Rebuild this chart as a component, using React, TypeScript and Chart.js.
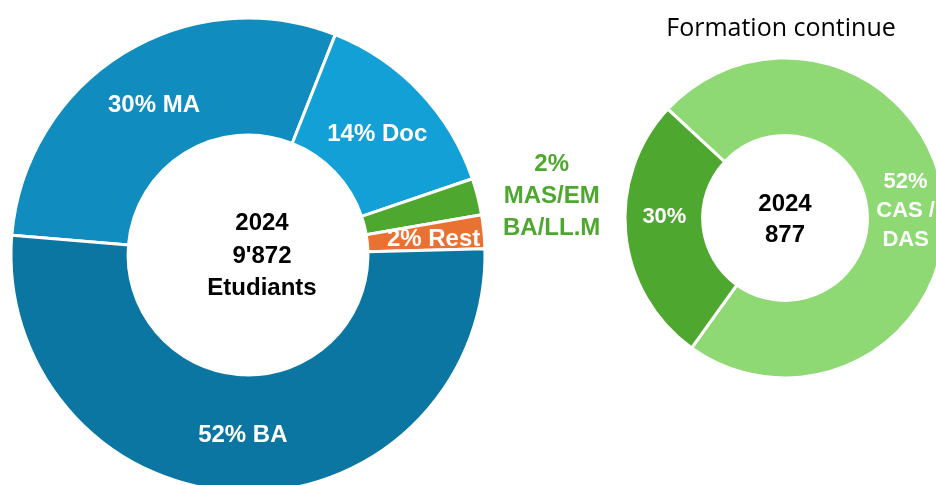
import React, { useEffect, useRef } from 'react';
import { Chart, registerables } from 'chart.js';

Chart.register(...registerables);

// ---- Data ----
const studentCategories = ['MA', 'Doc', 'MAS/EMBA/LL.M', 'Rest', 'BA'];
const studentShares = [29.7, 13.8, 2.5, 2.3, 51.8];
const studentLabels = ['30% MA', '14% Doc', '2%\nMAS/EM\nBA/LL.M', '2% Rest', '52% BA'];
const studentCenter = ['2024', "9'872", 'Etudiants'];

const ceCategories = ['CAS / DAS', 'Autres'];
const ceShares = [73, 27];
const ceLabels = ['52%\nCAS /\nDAS', '30%'];
const ceCenter = ['2024', '877'];
const ceTitle = 'Formation continue';

const BOLD = '"Liberation Sans", Arial, sans-serif';

const labelPlugin = {
  id: 'segLabels',
  afterDatasetsDraw(chart: any, _args: any, opts: any) {
    const ctx = chart.ctx;
    const meta = chart.getDatasetMeta(0);
    let cx = 0;
    let cy = 0;
    meta.data.forEach((arc: any, i: number) => {
      arc.draw(ctx);
      const p = arc.getProps(['x', 'y', 'startAngle', 'endAngle', 'innerRadius', 'outerRadius'], true);
      cx = p.x;
      cy = p.y;
      const text = opts.labels[i];
      if (!text) return;
      const mid = (p.startAngle + p.endAngle) / 2;
      const outside = opts.outside && opts.outside[i];
      let px: number;
      let py: number;
      if (outside) {
        px = p.x + p.outerRadius * Math.cos(mid) + opts.outsideShift;
        py = p.y + p.outerRadius * Math.sin(mid);
      } else {
        const r = (p.innerRadius + p.outerRadius) / 2;
        px = p.x + r * Math.cos(mid);
        py = p.y + r * Math.sin(mid);
      }
      px += (opts.nudgeX && opts.nudgeX[i]) || 0;
      py += (opts.nudgeY && opts.nudgeY[i]) || 0;
      const lines = String(text).split('\n');
      ctx.save();
      ctx.font = `bold ${opts.fontSize}px ${BOLD}`;
      ctx.fillStyle = outside ? opts.outsideColor : '#ffffff';
      ctx.textAlign = 'center';
      ctx.textBaseline = 'middle';
      const lh = opts.lineHeight;
      lines.forEach((ln: string, k: number) => {
        ctx.fillText(ln, px, py + (k - (lines.length - 1) / 2) * lh);
      });
      ctx.restore();
    });
    // center text
    ctx.save();
    ctx.font = `bold ${opts.centerSize}px ${BOLD}`;
    ctx.fillStyle = '#000000';
    ctx.textAlign = 'center';
    ctx.textBaseline = 'middle';
    const cl = opts.center as string[];
    cl.forEach((ln, k) => {
      ctx.fillText(
        ln,
        cx + (opts.centerDx || 0),
        cy + (opts.centerDy || 0) + (k - (cl.length - 1) / 2) * opts.centerLineHeight
      );
    });
    ctx.restore();
    if (opts.title) {
      ctx.save();
      ctx.font = `25px "Open Sans", Arial, sans-serif`;
      ctx.fillStyle = '#000000';
      ctx.textAlign = 'center';
      ctx.textBaseline = 'middle';
      ctx.fillText(opts.title, opts.titleX, opts.titleY);
      ctx.restore();
    }
  },
};

function StudentsChart() {
  const ref = useRef<HTMLCanvasElement>(null);
  useEffect(() => {
    const chart = new Chart(ref.current as HTMLCanvasElement, {
      type: 'doughnut',
      data: {
        labels: studentCategories,
        datasets: [
          {
            data: studentShares,
            backgroundColor: ['#108CBF', '#13A0D7', '#4EA72E', '#E97132', '#0B76A1'],
            borderColor: '#ffffff',
            borderWidth: 3,
          },
        ],
      },
      options: {
        responsive: false,
        animation: false,
        devicePixelRatio: 1,
        rotation: -85.2,
        radius: 237,
        cutout: '50.6%',
        layout: { padding: { left: 0, top: 0, bottom: 0, right: 104 } },
        plugins: {
          legend: { display: false },
          tooltip: { enabled: false },
          segLabels: {
            labels: studentLabels,
            outside: [false, false, true, false, false],
            outsideShift: 74,
            outsideColor: '#4EA72E',
            nudgeX: [0, 0, 0, 8, 0],
            nudgeY: [2, 2, 0, 2, 2],
            fontSize: 24,
            lineHeight: 32,
            center: studentCenter,
            centerSize: 24,
            centerLineHeight: 32.5,
            centerDx: 14,
            centerDy: 1,
          },
        } as any,
      },
      plugins: [labelPlugin as any],
    });
    return () => chart.destroy();
  }, []);
  return (
    <canvas
      ref={ref}
      width={600}
      height={510}
      style={{ position: 'absolute', left: 0, top: 0, width: 600, height: 510, display: 'block' }}
    />
  );
}

function ContinuingChart() {
  const ref = useRef<HTMLCanvasElement>(null);
  useEffect(() => {
    const chart = new Chart(ref.current as HTMLCanvasElement, {
      type: 'doughnut',
      data: {
        labels: ceCategories,
        datasets: [
          {
            data: ceShares,
            backgroundColor: ['#8ED973', '#4EA72E'],
            borderColor: '#ffffff',
            borderWidth: 3,
          },
        ],
      },
      options: {
        responsive: false,
        animation: false,
        devicePixelRatio: 1,
        rotation: -47.1,
        radius: 160,
        cutout: '51.5%',
        layout: { padding: 0 },
        plugins: {
          legend: { display: false },
          tooltip: { enabled: false },
          segLabels: {
            labels: ceLabels,
            outside: [false, false],
            outsideShift: 0,
            outsideColor: '#4EA72E',
            nudgeX: [0, 0],
            nudgeY: [5, -13],
            fontSize: 22,
            lineHeight: 29,
            center: ceCenter,
            centerSize: 24,
            centerLineHeight: 31,
            centerDx: 0,
            centerDy: 2,
            title: ceTitle,
            titleX: 181,
            titleY: 29,
          },
        } as any,
      },
      plugins: [labelPlugin as any],
    });
    return () => chart.destroy();
  }, []);
  return (
    <canvas
      ref={ref}
      width={370}
      height={436}
      style={{ position: 'absolute', left: 600, top: 0, width: 370, height: 436, display: 'block' }}
    />
  );
}

export default function App() {
  return (
    <div
      style={{
        position: 'absolute',
        left: 0,
        top: 0,
        width: 936,
        height: 485,
        overflow: 'hidden',
        background: '#ffffff',
      }}
    >
      <StudentsChart />
      <ContinuingChart />
    </div>
  );
}
